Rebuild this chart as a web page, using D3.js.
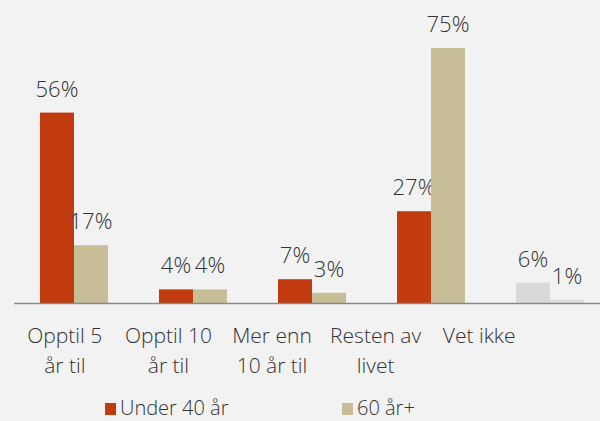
<!DOCTYPE html>
<html><head><meta charset="utf-8">
<script src="https://cdn.jsdelivr.net/npm/d3@7"></script>
<style>
html,body{margin:0;padding:0;background:#F2F2F2;}
svg{display:block;}
text{font-family:"Open Sans","DejaVu Sans",sans-serif;fill:#333333;font-weight:300;}
</style></head>
<body>
<script>
const categories = ["Opptil 5 år til","Opptil 10 år til","Mer enn 10 år til","Resten av livet","Vet ikke"];
const categoryLines = [["Opptil 5","år til"],["Opptil 10","år til"],["Mer enn","10 år til"],["Resten av","livet"],["Vet ikke"]];
const seriesNames = ["Under 40 år","60 år+"];
const under40 = [56,4,7,27,6];
const over60 = [17,4,3,75,1];

const W=600,H=421;
const colors = {"Under 40 år":"#C23B0E","60 år+":"#C7BE98"};
const vetIkkeColors = ["#D9D9D9","#DEDEDE"];

const svg=d3.select("body").append("svg").attr("width",W).attr("height",H);
svg.append("rect").attr("width",W).attr("height",H).attr("fill","#F2F2F2");

const x=d3.scaleBand().domain(categories).range([14.5,609.5]).paddingInner(0).paddingOuter(0);
const xs=d3.scaleBand().domain(seriesNames).range([0,68]);
const y=d3.scaleLinear().domain([0,75]).range([303,48]);
const xLab=d3.scaleBand().domain(categories).range([13,531]);

const series=[under40,over60];
categories.forEach((c,i)=>{
  seriesNames.forEach((s,j)=>{
    const v=series[j][i];
    const x0=x(c)+x.bandwidth()/2-34+xs(s);
    const fill = c==="Vet ikke" ? vetIkkeColors[j] : colors[s];
    svg.append("rect").attr("x",x0).attr("y",y(v)).attr("width",xs.bandwidth())
      .attr("height",y(0)-y(v)).attr("fill",fill);
    svg.append("text").attr("x",x0+xs.bandwidth()/2).attr("y",y(v)-16)
      .attr("text-anchor","middle").attr("font-size",22).text(v+"%");
  });
});

svg.append("line").attr("x1",14).attr("x2",W).attr("y1",y(0)+0.5).attr("y2",y(0)+0.5)
  .attr("stroke","#898989").attr("stroke-width",1.5);

categories.forEach((c,i)=>{
  const t=svg.append("text").attr("text-anchor","middle").attr("font-size",21)
    .attr("x",xLab(c)+xLab.bandwidth()/2).attr("y",343);
  categoryLines[i].forEach((ln,k)=>{
    t.append("tspan").attr("x",xLab(c)+xLab.bandwidth()/2).attr("dy",k===0?0:30).text(ln);
  });
});

const legX=d3.scalePoint().domain(seriesNames).range([105,342]);
seriesNames.forEach(s=>{
  svg.append("rect").attr("x",legX(s)).attr("y",403).attr("width",11).attr("height",12).attr("fill",colors[s]);
  svg.append("text").attr("x",legX(s)+15).attr("y",415).attr("font-size",20).text(s);
});
</script>
</body></html>
